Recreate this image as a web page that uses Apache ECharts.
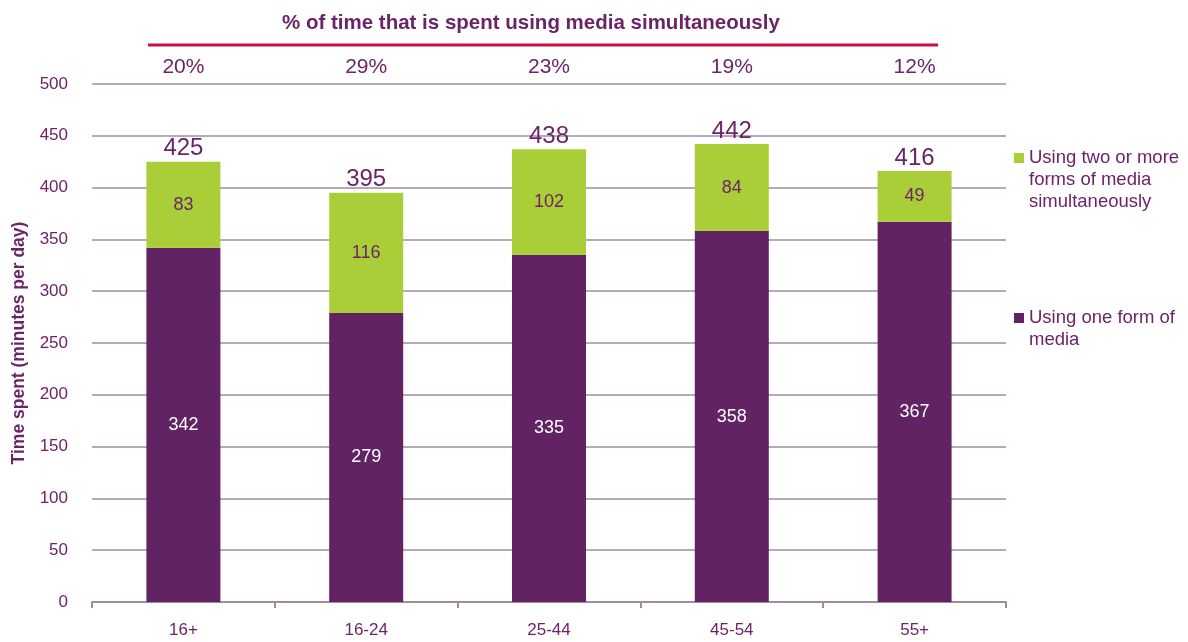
<!DOCTYPE html>
<html>
<head>
<meta charset="UTF-8">
<title>Time spent using media</title>
<script src="https://cdn.jsdelivr.net/npm/echarts@6.0.0/dist/echarts.min.js"></script>
<style>
  html, body { margin: 0; padding: 0; background: #fff; }
  #main { width: 1188px; height: 642px; }
</style>
</head>
<body>
<div id="main"></div>
<script>
// data
var ageGroups = ['16+', '16-24', '25-44', '45-54', '55+'];
var oneForm = [342, 279, 335, 358, 367];
var multiForm = [83, 116, 102, 84, 49];
var totals = [425, 395, 438, 442, 416];
var simultPct = ['20%', '29%', '23%', '19%', '12%'];

var nameMulti = 'Using two or more\nforms of media\nsimultaneously';
var nameOne = 'Using one form of\nmedia';

var purple = '#612363';
var green = '#a9ce38';
var textCol = '#6b2468';
var font = 'Liberation Sans, Arial, sans-serif';

var chart = echarts.init(document.getElementById('main'));

// legend text: blank lines in front so the first line sits level with the square
function legendItem(name, lines, top) {
  var pre = new Array(lines).join('\n');
  return {
    orient: 'vertical',
    left: 1014,
    top: top,
    padding: 0,
    itemWidth: 10,
    itemHeight: 10,
    icon: 'rect',
    data: [name],
    selectedMode: false,
    formatter: function (n) { return pre + n; },
    textStyle: { color: textCol, fontSize: 18.5, lineHeight: 22, fontFamily: font }
  };
}

var option = {
  animation: false,
  textStyle: { fontFamily: font },
  title: {
    text: '% of time that is spent using media simultaneously',
    left: 277,
    top: 8,
    textStyle: { color: textCol, fontSize: 20.5, fontWeight: 'bold', fontFamily: font }
  },
  graphic: [{
    type: 'line',
    shape: { x1: 148, y1: 45, x2: 938, y2: 45 },
    style: { stroke: '#c8103e', lineWidth: 3 }
  }],
  legend: [
    legendItem(nameMulti, 3, 158 - 55),
    legendItem(nameOne, 2, 318 - 33)
  ],
  grid: { left: 92, right: 182, top: 84, bottom: 40 },
  xAxis: [{
    type: 'category',
    data: ageGroups,
    axisLine: { lineStyle: { color: '#a08ca0', width: 2 } },
    axisTick: { show: true, length: 6, lineStyle: { color: '#a08ca0', width: 2 } },
    axisLabel: { color: textCol, fontSize: 17, margin: 20 }
  }, {
    type: 'category',
    position: 'top',
    data: simultPct,
    axisLine: { show: false },
    axisTick: { show: false },
    axisLabel: { color: textCol, fontSize: 21, margin: 6 }
  }],
  yAxis: {
    type: 'value',
    min: 0,
    max: 500,
    interval: 50,
    name: 'Time spent (minutes per day)',
    nameLocation: 'middle',
    nameGap: 64,
    nameTextStyle: { color: textCol, fontSize: 17.5, fontWeight: 'bold' },
    axisLine: { show: false },
    axisTick: { show: false },
    axisLabel: { color: textCol, fontSize: 17, margin: 24 },
    splitLine: { lineStyle: { color: '#b8a9b8', width: 2 } }
  },
  series: [{
    name: nameOne,
    type: 'bar',
    stack: 'time',
    barWidth: 74,
    data: oneForm,
    itemStyle: { color: purple },
    label: { show: true, position: 'inside', color: '#fff', fontSize: 18 }
  }, {
    name: nameMulti,
    type: 'bar',
    stack: 'time',
    barWidth: 74,
    data: multiForm,
    itemStyle: { color: green },
    label: { show: true, position: 'inside', color: textCol, fontSize: 18 }
  }, {
    name: 'total',
    type: 'bar',
    stack: 'time',
    barWidth: 74,
    data: totals.map(function () { return 0; }),
    itemStyle: { color: 'transparent' },
    label: {
      show: true,
      position: 'top',
      distance: 1,
      color: textCol,
      fontSize: 24,
      formatter: function (p) { return totals[p.dataIndex]; }
    }
  }]
};

chart.setOption(option);
</script>
</body>
</html>
